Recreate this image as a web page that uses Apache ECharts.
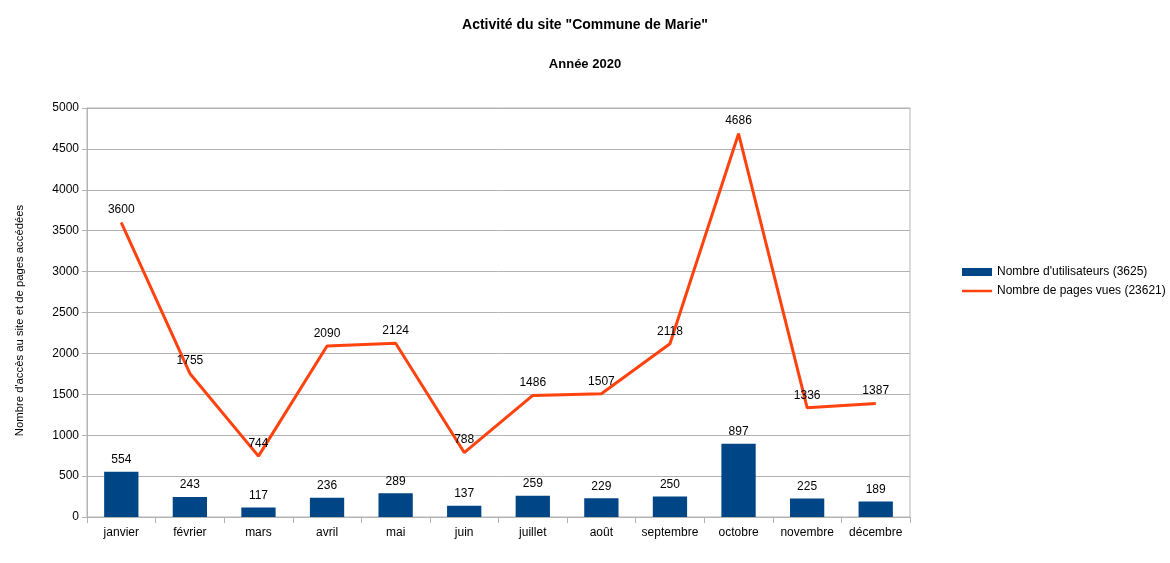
<!DOCTYPE html>
<html><head><meta charset="utf-8">
<script src="https://cdn.jsdelivr.net/npm/echarts@6/dist/echarts.min.js"></script>
<style>html,body{margin:0;padding:0;background:#fff}#c{width:1170px;height:563px}</style>
</head><body><div id="c"></div>
<script>
const categories = ['janvier','février','mars','avril','mai','juin','juillet','août','septembre','octobre','novembre','décembre'];
const utilisateurs = [554,243,117,236,289,137,259,229,250,897,225,189];
const pagesVues = [3600,1755,744,2090,2124,788,1486,1507,2118,4686,1336,1387];
const yTicks = {min:0, max:5000, interval:500};

const chart = echarts.init(document.getElementById('c'));
const font = '"Liberation Sans", Arial, sans-serif';
chart.setOption({
  animation:false,
  backgroundColor:'#fff',
  title:[
    {text:'Activité du site "Commune de Marie"', left:'center', top:13, textStyle:{fontFamily:font, fontSize:14, fontWeight:'bold', color:'#000'}},
    {text:'Année 2020', left:'center', top:53, textStyle:{fontFamily:font, fontSize:13, fontWeight:'bold', color:'#000'}}
  ],
  legend:{
    orient:'vertical', left:957, top:261, itemGap:7, itemWidth:30, itemHeight:8, itemTextGap:3,
    textStyle:{fontFamily:font, fontSize:12, color:'#000'},
    data:[{name:'Nombre d\'utilisateurs (3625)', icon:'rect'},
          {name:'Nombre de pages vues (23621)', icon:'path://M0,0L300,0L300,25L0,25Z'}]
  },
  grid:{left:87, right:260, top:108, bottom:46, show:true, borderColor:'#b3b3b3', borderWidth:1},
  xAxis:{
    type:'category', data:categories,
    axisLine:{lineStyle:{color:'#b3b3b3'}},
    axisTick:{show:true, length:6, interval:0, lineStyle:{color:'#b3b3b3'}},
    axisLabel:{fontFamily:font, fontSize:12, color:'#000', margin:10, interval:0}
  },
  yAxis:{
    type:'value', min:yTicks.min, max:yTicks.max, interval:yTicks.interval,
    name:'Nombre d\'accès au site et de pages accédées', nameLocation:'middle', nameGap:62, nameRotate:90,
    nameTextStyle:{fontFamily:font, fontSize:11.3, color:'#000', padding:[0,16,0,0]},
    axisLine:{show:true, lineStyle:{color:'#b3b3b3'}},
    axisTick:{show:true, length:5, lineStyle:{color:'#b3b3b3'}},
    splitLine:{lineStyle:{color:'#b3b3b3'}},
    axisLabel:{fontFamily:font, fontSize:12, color:'#000', margin:8, formatter:v=>String(v)}
  },
  series:[
    {name:'Nombre d\'utilisateurs (3625)', type:'bar', data:utilisateurs, barWidth:'50%',
     itemStyle:{color:'#004586'},
     label:{show:true, position:'top', distance:6, fontFamily:font, fontSize:12, color:'#000'}},
    {name:'Nombre de pages vues (23621)', type:'line', data:pagesVues, symbol:'circle', symbolSize:1, showSymbol:true,
     lineStyle:{color:'#ff420e', width:3}, itemStyle:{color:'#ff420e'},
     label:{show:true, position:'top', distance:6, fontFamily:font, fontSize:12, color:'#000'}}
  ]
});
</script></body></html>
